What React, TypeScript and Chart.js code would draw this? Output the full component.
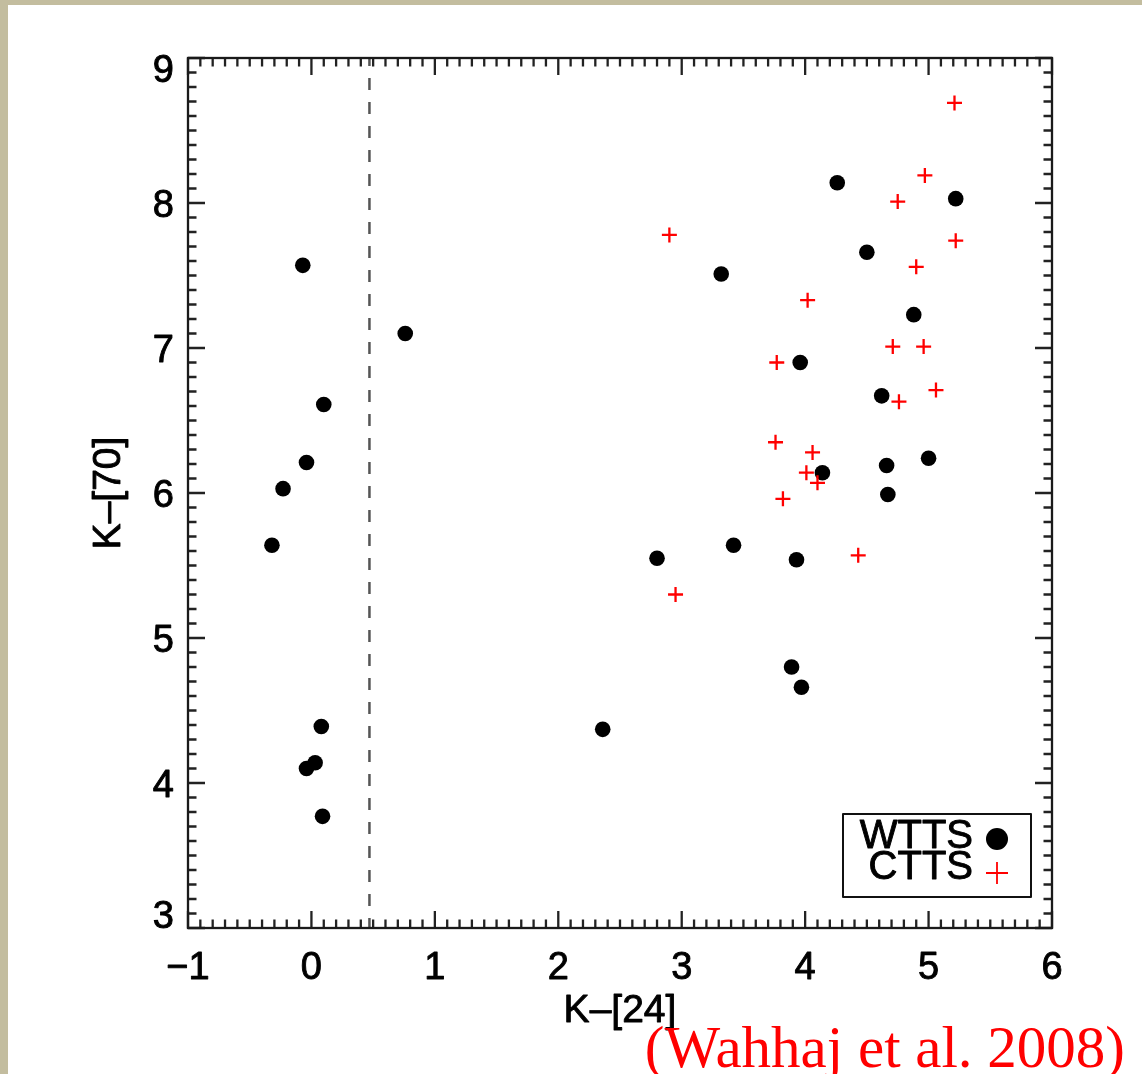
import React, { useEffect, useRef } from "react";
import { Chart, registerables } from "chart.js";

Chart.register(...registerables);

// ---- Data ----
const wttsX = [-0.07, 0.76, 0.10, -0.04, -0.23, -0.32, 0.08, 0.03, -0.04, 0.09, 2.36, 2.80, 3.32, 3.42, 4.26, 5.22, 4.50, 4.88, 3.96, 4.62, 4.14, 4.66, 5.00, 4.67, 3.93, 3.89, 3.97];
const wttsY = [7.57, 7.10, 6.61, 6.21, 6.03, 5.64, 4.39, 4.14, 4.10, 3.77, 4.37, 5.55, 7.51, 5.64, 8.14, 8.03, 7.66, 7.23, 6.90, 6.67, 6.14, 6.19, 6.24, 5.99, 5.54, 4.80, 4.66];
const cttsX = [5.21, 4.97, 4.75, 5.22, 2.90, 4.90, 4.02, 4.71, 4.96, 3.77, 5.06, 4.76, 3.76, 4.06, 4.01, 4.10, 3.82, 4.43, 2.95];
const cttsY = [8.69, 8.19, 8.01, 7.74, 7.78, 7.56, 7.33, 7.01, 7.01, 6.90, 6.71, 6.63, 6.35, 6.28, 6.14, 6.07, 5.96, 5.57, 5.30];
const xTicks = [-1, 0, 1, 2, 3, 4, 5, 6];
const yTicks = [3, 4, 5, 6, 7, 8, 9];
const dividerX = 0.47;
const xTitle = "K–[24]";
const yTitle = "K–[70]";
const legendLabels = ["WTTS", "CTTS"];
const citation = "(Wahhaj et al. 2008)";

const SANS = "'Liberation Sans', Arial, Helvetica, sans-serif";
const SERIF = "'Liberation Serif', 'Times New Roman', serif";

function heavyText(ctx: CanvasRenderingContext2D, text: string, x: number, y: number) {
  ctx.fillText(text, x, y);
  ctx.strokeText(text, x, y);
}

const decorPlugin = {
  id: "decor",
  beforeDatasetsDraw(chart: any) {
    const { ctx, chartArea: a, scales } = chart;
    const xs = scales.x;
    ctx.save();
    const dx = xs.getPixelForValue(dividerX);
    ctx.strokeStyle = "#555555";
    ctx.lineWidth = 2.5;
    ctx.setLineDash([12, 12]);
    ctx.lineDashOffset = 4;
    ctx.beginPath();
    ctx.moveTo(dx, a.top);
    ctx.lineTo(dx, a.bottom);
    ctx.stroke();
    ctx.restore();
  },
  afterDatasetsDraw(chart: any) {
    const { ctx, chartArea: a, scales } = chart;
    const xs = scales.x;
    const ys = scales.y;
    ctx.save();
    ctx.setLineDash([]);
    // ticks
    ctx.strokeStyle = "#222222";
    ctx.lineWidth = 2.3;
    ctx.beginPath();
    for (let i = 0; i <= 70; i++) {
      const v = -1 + i / 10;
      const major = i % 10 === 0;
      const len = major ? 17 : 8.5;
      const px = xs.getPixelForValue(v);
      ctx.moveTo(px, a.bottom);
      ctx.lineTo(px, a.bottom - len);
      ctx.moveTo(px, a.top);
      ctx.lineTo(px, a.top + len);
    }
    for (let i = 0; i <= 60; i++) {
      const v = 3 + i / 10;
      const major = i % 10 === 0;
      const len = major ? 17 : 8.5;
      const py = ys.getPixelForValue(v);
      ctx.moveTo(a.left, py);
      ctx.lineTo(a.left + len, py);
      ctx.moveTo(a.right, py);
      ctx.lineTo(a.right - len, py);
    }
    ctx.stroke();
    // frame
    ctx.strokeStyle = "#1a1a1a";
    ctx.lineWidth = 2.3;
    ctx.strokeRect(a.left, a.top, a.right - a.left, a.bottom - a.top);

    // tick labels
    ctx.fillStyle = "#000000";
    ctx.strokeStyle = "#000000";
    ctx.lineWidth = 0.9;
    ctx.lineJoin = "round";
    ctx.font = `38px ${SANS}`;
    ctx.textBaseline = "alphabetic";
    ctx.textAlign = "center";
    xTicks.forEach((v) => {
      const px = xs.getPixelForValue(v);
      heavyText(ctx, String(v).replace("-", "\u2212"), px, a.bottom + 51);
    });
    ctx.textAlign = "right";
    yTicks.forEach((v) => {
      const py = ys.getPixelForValue(v);
      const base = Math.min(Math.max(py + 13.6, a.top + 24), a.bottom);
      heavyText(ctx, String(v), a.left - 14, base);
    });

    // axis titles
    ctx.font = `39px ${SANS}`;
    ctx.textAlign = "center";
    heavyText(ctx, xTitle, (a.left + a.right) / 2, a.bottom + 94);
    ctx.save();
    ctx.translate(a.left - 68, (a.top + a.bottom) / 2);
    ctx.rotate(-Math.PI / 2);
    heavyText(ctx, yTitle, 0, 0);
    ctx.restore();

    // legend
    const bx = a.right - 209;
    const by = a.bottom - 114;
    const bw = 188;
    const bh = 83;
    ctx.fillStyle = "#ffffff";
    ctx.fillRect(bx, by, bw, bh);
    ctx.strokeStyle = "#111111";
    ctx.lineWidth = 2;
    ctx.strokeRect(bx, by, bw, bh);
    ctx.fillStyle = "#000000";
    ctx.strokeStyle = "#000000";
    ctx.lineWidth = 0.9;
    ctx.font = `40px ${SANS}`;
    ctx.textAlign = "right";
    heavyText(ctx, legendLabels[0], bx + 130, by + 34);
    heavyText(ctx, legendLabels[1], bx + 130, by + 65);
    ctx.beginPath();
    ctx.arc(bx + 154, by + 25, 11, 0, Math.PI * 2);
    ctx.fill();
    ctx.strokeStyle = "#ff0000";
    ctx.lineWidth = 1.8;
    ctx.beginPath();
    ctx.moveTo(bx + 154 - 11, by + 59);
    ctx.lineTo(bx + 154 + 11, by + 59);
    ctx.moveTo(bx + 154, by + 48);
    ctx.lineTo(bx + 154, by + 70);
    ctx.stroke();

    // citation
    ctx.fillStyle = "#ff0000";
    ctx.font = `59px ${SERIF}`;
    ctx.textAlign = "right";
    ctx.fillText(citation, a.right + 73, a.bottom + 139);
    ctx.restore();
  },
};

export default function App() {
  const ref = useRef<HTMLCanvasElement | null>(null);
  useEffect(() => {
    if (!ref.current) return;
    const chart = new Chart(ref.current, {
      type: "scatter",
      data: {
        datasets: [
          {
            label: legendLabels[1],
            data: cttsX.map((x, i) => ({ x, y: cttsY[i] })),
            pointStyle: "cross",
            pointRadius: 7.5,
            pointHoverRadius: 7.5,
            borderColor: "#ff0000",
            backgroundColor: "#ff0000",
            pointBorderWidth: 2.3,
            order: 0,
          },
          {
            label: legendLabels[0],
            data: wttsX.map((x, i) => ({ x, y: wttsY[i] })),
            pointStyle: "circle",
            pointRadius: 7.8,
            pointHoverRadius: 7.8,
            backgroundColor: "#000000",
            borderColor: "#000000",
            pointBorderWidth: 0,
            order: 1,
          },
        ],
      },
      options: {
        responsive: false,
        animation: false,
        events: [],
        layout: { padding: { left: 0, top: 58, right: 90, bottom: 0 } },
        plugins: { legend: { display: false }, tooltip: { enabled: false }, title: { display: false } },
        scales: {
          x: {
            type: "linear",
            min: -1,
            max: 6,
            grid: { display: false, drawTicks: false },
            border: { display: false },
            ticks: { display: false, stepSize: 1 },
            afterFit: (s: any) => {
              s.height = 146;
            },
          },
          y: {
            type: "linear",
            min: 3,
            max: 9,
            grid: { display: false, drawTicks: false },
            border: { display: false },
            ticks: { display: false, stepSize: 1 },
            afterFit: (s: any) => {
              s.width = 188;
            },
          },
        },
      },
      plugins: [decorPlugin],
    });
    return () => chart.destroy();
  }, []);

  return (
    <div
      style={{
        position: "absolute",
        left: 0,
        top: 0,
        width: 1142,
        height: 1074,
        background: "#c3bd9f",
        overflow: "hidden",
      }}
    >
      <div
        style={{
          position: "absolute",
          left: 8,
          top: 5,
          right: 0,
          bottom: 0,
          background: "#ffffff",
        }}
      />
      <canvas
        ref={ref}
        width={1142}
        height={1074}
        style={{ position: "absolute", left: 0, top: 0, width: 1142, height: 1074 }}
      />
    </div>
  );
}
